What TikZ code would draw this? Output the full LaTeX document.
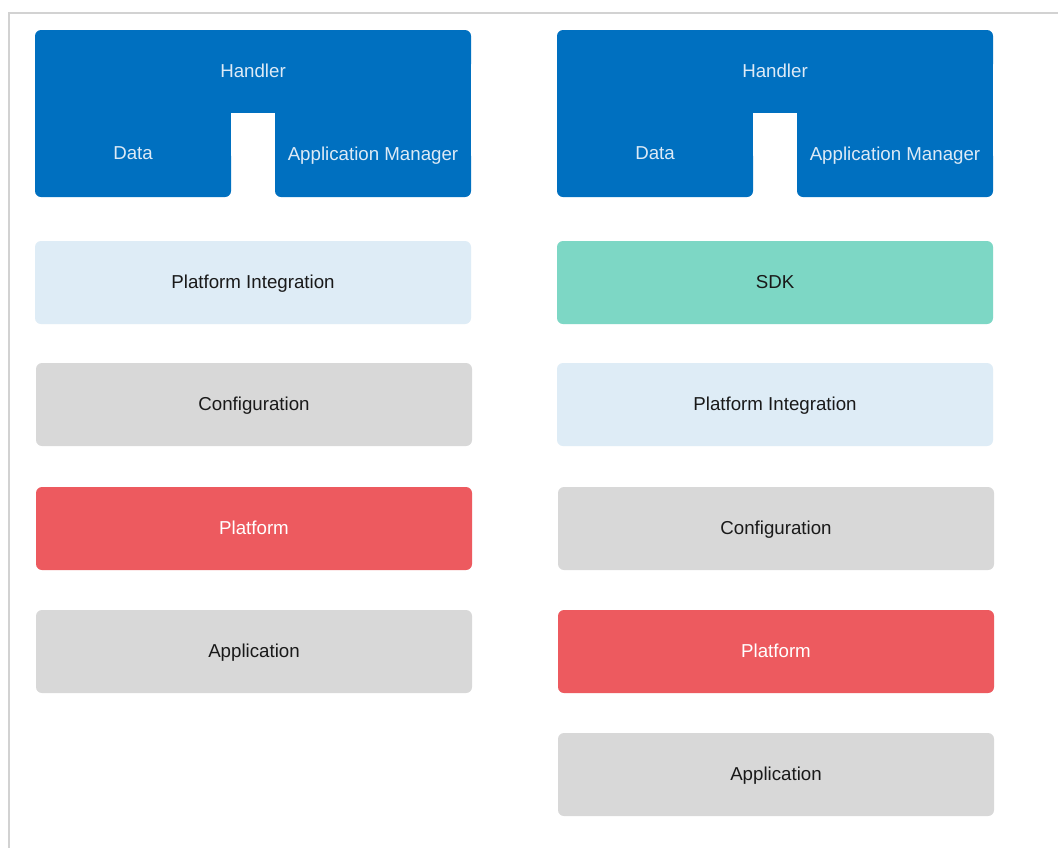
\documentclass[tikz,border=0pt]{standalone}
\usepackage{fontspec}
\setmainfont{Liberation Sans}
\definecolor{hblue}{HTML}{0070C0}
\definecolor{htext}{HTML}{DDEAF6}
\definecolor{pilight}{HTML}{DEECF6}
\definecolor{cfggray}{HTML}{D8D8D8}
\definecolor{platred}{HTML}{ED5A5F}
\definecolor{sdkteal}{HTML}{7DD7C5}
\definecolor{framegray}{HTML}{D2D2D2}
\newcommand\mybluegroup[2]{%
  % #1 = left x, #2 = name prefix
  \fill[hblue, rounded corners=6pt] (#1,30) rectangle ++(436,40);
  \fill[hblue] (#1,36) rectangle ++(436,77);
  \fill[hblue] (#1,100) rectangle ++(196,90);
  \fill[hblue, rounded corners=6pt] (#1,150) rectangle ++(196,47);
  \fill[hblue] (#1+240,100) rectangle ++(196,90);
  \fill[hblue, rounded corners=6pt] (#1+240,150) rectangle ++(196,47);
  \node[btext] (#2handler) at (#1+218,72) {Handler};
  \node[btext] (#2data) at (#1+98,154) {Data};
  \node[btext] (#2am) at (#1+338,154.5) {Application Manager};
}
\begin{document}
\begin{tikzpicture}[x=1pt,y=-1pt,
  btext/.style={text=htext, font=\fontsize{18.7}{22}\selectfont, inner sep=0pt,
    text height=13.5pt, text depth=2pt},
  layer/.style={rounded corners=6pt, minimum width=436pt, minimum height=83pt,
    inner sep=0pt, font=\fontsize{18.7}{22}\selectfont, text=black!90,
    text height=13.5pt, text depth=2pt},
  pistyle/.style={layer, fill=pilight},
  cfgstyle/.style={layer, fill=cfggray},
  platstyle/.style={layer, fill=platred, text=white},
  sdkstyle/.style={layer, fill=sdkteal}]
\useasboundingbox (0,0) rectangle (1058,847);
\fill[white] (0,0) rectangle (1058,847);
\draw[framegray, line width=2pt] (9,848) -- (9,13) -- (1059,13);
% left column
\mybluegroup{35}{L}
\node[pistyle] (Lpi) at (253,282.5) {Platform Integration};
\node[cfgstyle] (Lcfg) at (254,404.5) {Configuration};
\node[platstyle] (Lplat) at (254,528.5) {Platform};
\node[cfgstyle] (Lapp) at (254,651.5) {Application};
% right column
\mybluegroup{557}{R}
\node[sdkstyle] (Rsdk) at (775,282.5) {SDK};
\node[pistyle] (Rpi) at (775,404.5) {Platform Integration};
\node[cfgstyle] (Rcfg) at (776,528.5) {Configuration};
\node[platstyle] (Rplat) at (776,651.5) {Platform};
\node[cfgstyle] (Rapp) at (776,774.5) {Application};
\end{tikzpicture}
\end{document}
